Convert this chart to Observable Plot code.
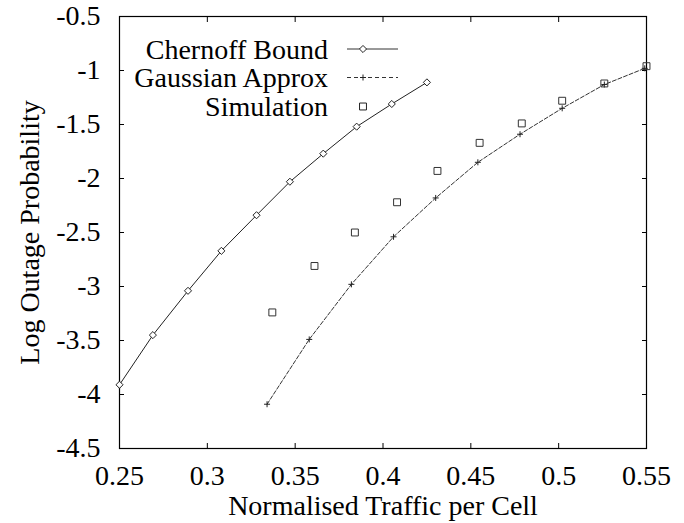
<!DOCTYPE html>
<html><head><meta charset="utf-8">
<script src="https://cdn.jsdelivr.net/npm/d3@7"></script>
<script src="https://cdn.jsdelivr.net/npm/@observablehq/plot@0.6"></script>
<style>
body{margin:0;background:#fff;}
#wrap{position:relative;width:684px;height:523px;font-family:"Liberation Serif","Times New Roman",serif;}
#wrap svg{overflow:visible}
</style></head><body><div id="wrap"></div>
<script>
const xTicks = [0.25, 0.3, 0.35, 0.4, 0.45, 0.5, 0.55];
const yTicks = [-4.5, -4, -3.5, -3, -2.5, -2, -1.5, -1, -0.5];
const xTitle = "Normalised Traffic per Cell";
const yTitle = "Log Outage Probability";
const legendLabels = ["Chernoff Bound", "Gaussian Approx", "Simulation"];

const chernoffX = [0.250, 0.269, 0.289, 0.308, 0.328, 0.347, 0.366, 0.385, 0.405, 0.425];
const chernoffY = [-3.91, -3.45, -3.04, -2.67, -2.34, -2.03, -1.77, -1.52, -1.31, -1.11];
const gaussX = [0.334, 0.358, 0.382, 0.406, 0.430, 0.454, 0.478, 0.502, 0.526, 0.549];
const gaussY = [-4.09, -3.49, -2.98, -2.54, -2.18, -1.85, -1.59, -1.35, -1.13, -0.98];
const simX = [0.337, 0.361, 0.384, 0.408, 0.431, 0.455, 0.479, 0.502, 0.526, 0.550];
const simY = [-3.24, -2.81, -2.50, -2.22, -1.93, -1.67, -1.49, -1.28, -1.12, -0.96];

const chernoff = chernoffX.map((x, i) => ({x, y: chernoffY[i]}));
const gauss = gaussX.map((x, i) => ({x, y: gaussY[i]}));
const sim = simX.map((x, i) => ({x, y: simY[i]}));

const plusSymbol = {
  draw(ctx, size) {
    const r = Math.sqrt(size / Math.PI);
    ctx.moveTo(-r, 0); ctx.lineTo(r, 0);
    ctx.moveTo(0, -r); ctx.lineTo(0, r);
  }
};

const FONT = "Liberation Serif, Times New Roman, serif";
const fmt = d => String(d);

const chart = Plot.plot({
  width: 684, height: 523,
  marginLeft: 119, marginRight: 38, marginTop: 16, marginBottom: 75,
  style: {fontFamily: FONT, fontSize: "28px", color: "#000", background: "#fff"},
  x: {domain: [0.25, 0.55]},
  y: {domain: [-4.5, -0.5]},
  marks: [
    Plot.axisX({ticks: xTicks, tickFormat: fmt, tickSize: 0, tickPadding: 17, label: null, fontSize: 28}),
    Plot.axisY({ticks: yTicks, tickFormat: fmt, tickSize: 0, tickPadding: 19, label: null, fontSize: 28}),
    Plot.axisX({ticks: xTicks, tickFormat: () => "", tickSize: -5, label: null}),
    Plot.axisX({anchor: "top", ticks: xTicks, tickFormat: () => "", tickSize: -5, label: null}),
    Plot.axisY({ticks: yTicks, tickFormat: () => "", tickSize: -5, label: null}),
    Plot.axisY({anchor: "right", ticks: yTicks, tickFormat: () => "", tickSize: -5, label: null}),
    Plot.frame({stroke: "#000", strokeWidth: 1.2}),
    Plot.line(chernoff, {x: "x", y: "y", stroke: "#222", strokeWidth: 1}),
    Plot.dot(chernoff, {x: "x", y: "y", symbol: "diamond2", r: 3.2, stroke: "#222", fill: "#fff", strokeWidth: 1}),
    Plot.line(gauss, {x: "x", y: "y", stroke: "#333", strokeWidth: 1, strokeDasharray: "4,2"}),
    Plot.dot(gauss, {x: "x", y: "y", symbol: plusSymbol, r: 3, stroke: "#222", strokeWidth: 1}),
    Plot.dot(sim, {x: "x", y: "y", symbol: "square2", r: 4.4, stroke: "#333", fill: "none", strokeWidth: 1}),
    Plot.text([xTitle], {frameAnchor: "bottom", lineAnchor: "middle", textAnchor: "middle", dy: 58, fontSize: 28, fill: "#000"}),
    Plot.text([yTitle], {frameAnchor: "left", textAnchor: "middle", lineAnchor: "middle", dx: -89, rotate: -90, fontSize: 28, fill: "#000"})
  ]
});
document.getElementById("wrap").appendChild(chart);

// Legend overlay
const leg = d3.select("#wrap").append("svg")
  .attr("width", 684).attr("height", 523)
  .style("position", "absolute").style("left", "0").style("top", "0")
  .style("pointer-events", "none");
const rowY = [49, 77.5, 106.5];
const symbols = [d3.symbolDiamond2, plusSymbol, d3.symbolSquare2];
const symR = [3.2, 3, 4.4];
legendLabels.forEach((label, i) => {
  const y = rowY[i];
  leg.append("text").attr("x", 328).attr("y", y + 9.5)
    .attr("text-anchor", "end").attr("font-family", FONT).attr("font-size", 28)
    .attr("fill", "#000").text(label);
  if (i < 2) {
    leg.append("line").attr("x1", 347).attr("x2", 398).attr("y1", y).attr("y2", y)
      .attr("stroke", "#333").attr("stroke-width", 1)
      .attr("stroke-dasharray", i === 1 ? "4,3" : null);
  }
  leg.append("path")
    .attr("d", d3.symbol(symbols[i], Math.PI * symR[i] * symR[i])())
    .attr("transform", `translate(363,${y})`)
    .attr("fill", i === 0 ? "#fff" : "none").attr("stroke", "#222").attr("stroke-width", 1);
});
</script>
</body></html>
